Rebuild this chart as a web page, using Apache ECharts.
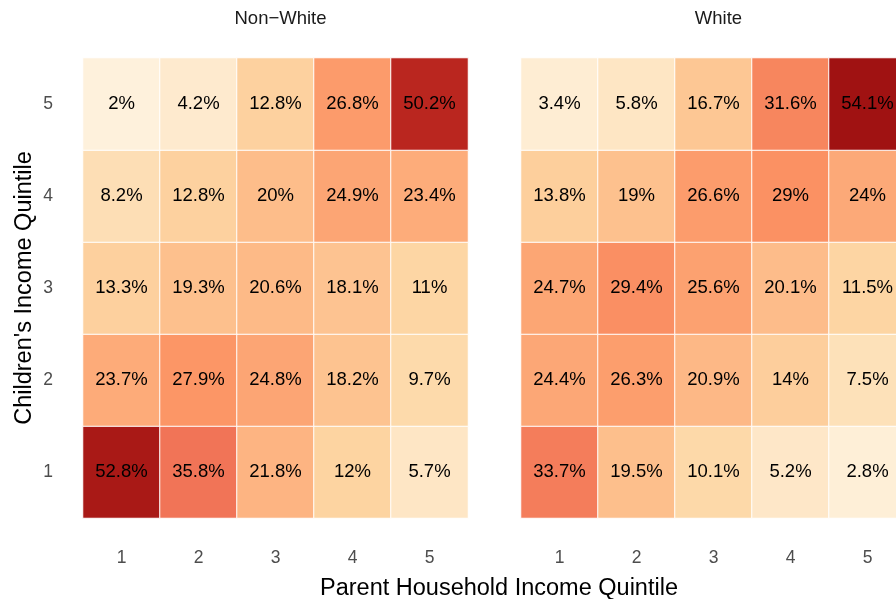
<!DOCTYPE html>
<html>
<head>
<meta charset="utf-8">
<script src="https://cdn.jsdelivr.net/npm/echarts@6/dist/echarts.min.js"></script>
<style>
  html, body { margin: 0; padding: 0; background: #fff; }
  #chart { width: 896px; height: 599px; }
</style>
</head>
<body>
<div id="chart"></div>
<script>
// quintiles, parent on x, child on y
var parentQuintiles = ['1', '2', '3', '4', '5'];
var childQuintiles = ['1', '2', '3', '4', '5'];
var panelNames = ['Non\u2212White', 'White'];

// rows = child quintile 1..5, cols = parent quintile 1..5 (percent)
var nonWhite = [
  [52.8, 35.8, 21.8, 12, 5.7],
  [23.7, 27.9, 24.8, 18.2, 9.7],
  [13.3, 19.3, 20.6, 18.1, 11],
  [8.2, 12.8, 20, 24.9, 23.4],
  [2, 4.2, 12.8, 26.8, 50.2]
];
var white = [
  [33.7, 19.5, 10.1, 5.2, 2.8],
  [24.4, 26.3, 20.9, 14, 7.5],
  [24.7, 29.4, 25.6, 20.1, 11.5],
  [13.8, 19, 26.6, 29, 24],
  [3.4, 5.8, 16.7, 31.6, 54.1]
];

// OrRd, slightly washed toward white like the original tiles
var orRd = ['#FEF0D9', '#FDD49E', '#FDBB84', '#FC8D59', '#EF6548', '#D7301F', '#990000'];
function wash(hex, a){
  var n = parseInt(hex.slice(1), 16);
  var r = (n >> 16) & 255, g = (n >> 8) & 255, b = n & 255;
  function m(v){ return Math.round(v * a + 255 * (1 - a)); }
  return 'rgb(' + m(r) + ',' + m(g) + ',' + m(b) + ')';
}
var tileColors = orRd.map(function(c){ return wash(c, 0.93); });

function toCells(tbl){
  var out = [];
  for (var r = 0; r < tbl.length; r++) {
    for (var c = 0; c < tbl[r].length; c++) {
      out.push([c, r, tbl[r][c]]);
    }
  }
  return out;
}

var allVals = nonWhite.concat(white).reduce(function(a, b){ return a.concat(b); }, []);
var vMin = Math.min.apply(null, allVals);
var vMax = Math.max.apply(null, allVals);

var font = 'Liberation Sans, Arial, sans-serif';
var panelLeft = [83, 521];
var panelW = 385;

function xAx(i){
  return {
    type: 'category', gridIndex: i, data: parentQuintiles,
    axisLine: {show: false}, axisTick: {show: false}, splitLine: {show: false},
    axisLabel: {color: '#4d4d4d', fontSize: 17.5, fontFamily: font, margin: 31}
  };
}
function yAx(i){
  var a = {
    type: 'category', gridIndex: i, data: childQuintiles,
    axisLine: {show: false}, axisTick: {show: false}, splitLine: {show: false},
    axisLabel: {show: i === 0, color: '#4d4d4d', fontSize: 17.5, fontFamily: font, margin: 30}
  };
  if (i === 0) {
    a.name = "Children's Income Quintile";
    a.nameLocation = 'middle';
    a.nameGap = 46;
    a.nameTextStyle = {color: '#000', fontSize: 23.5, fontFamily: font};
  }
  return a;
}
function series(i, tbl){
  return {
    type: 'heatmap', xAxisIndex: i, yAxisIndex: i,
    data: toCells(tbl),
    itemStyle: {borderColor: '#fff', borderWidth: 1},
    label: {
      show: true, color: '#000', fontSize: 18.5, fontFamily: font,
      formatter: function(p){ return p.value[2] + '%'; }
    },
    emphasis: {disabled: true}
  };
}

var chart = echarts.init(document.getElementById('chart'));
chart.setOption({
  animation: false,
  backgroundColor: '#fff',
  title: [
    {text: panelNames[0], left: panelLeft[0] + panelW / 2, top: 4, textAlign: 'center',
     textStyle: {fontSize: 18.5, fontWeight: 'normal', color: '#1a1a1a', fontFamily: font}},
    {text: panelNames[1], left: panelLeft[1] + panelW / 2, top: 4, textAlign: 'center',
     textStyle: {fontSize: 18.5, fontWeight: 'normal', color: '#1a1a1a', fontFamily: font}},
    {text: 'Parent Household Income Quintile', left: 494, top: 572, textAlign: 'center',
     textStyle: {fontSize: 23.5, fontWeight: 'normal', color: '#000', fontFamily: font}}
  ],
  grid: [
    {left: panelLeft[0], top: 58, width: panelW, height: 460, outerBoundsMode: 'none'},
    {left: panelLeft[1], top: 58, width: panelW, height: 460, outerBoundsMode: 'none'}
  ],
  xAxis: [xAx(0), xAx(1)],
  yAxis: [yAx(0), yAx(1)],
  visualMap: {
    show: false, type: 'continuous', min: vMin, max: vMax,
    seriesIndex: [0, 1], dimension: 2,
    inRange: {color: tileColors}
  },
  series: [series(0, nonWhite), series(1, white)]
});
</script>
</body>
</html>
